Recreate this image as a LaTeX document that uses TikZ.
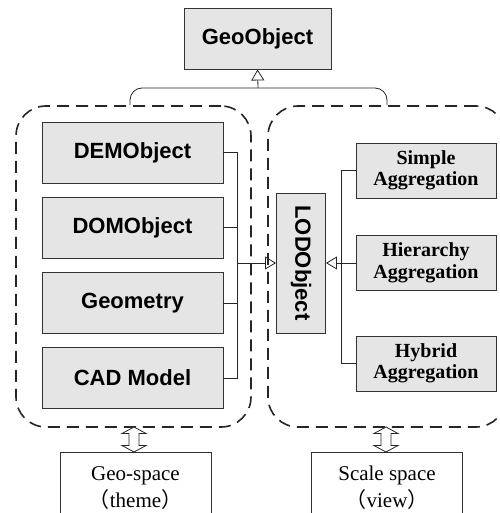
\documentclass[tikz,border=0pt]{standalone}
\usepackage{fontspec}
\setmainfont{Liberation Serif}
\setsansfont{Liberation Sans}
\newfontfamily\cjk{Noto Sans CJK SC}
\usetikzlibrary{arrows.meta}
\tikzset{
  clsfont/.style={font=\sffamily\bfseries\fontsize{22}{25}\selectfont},
  cls/.style={draw=black!80, line width=0.9pt, fill=gray!20, inner sep=0pt, clsfont},
  agg/.style={draw=black!80, line width=0.9pt, fill=gray!20, inner sep=0pt, align=center,
    minimum width=140pt, minimum height=55pt, font=\bfseries\fontsize{20}{21.5}\selectfont},
  group/.style={draw=black!85, line width=1.6pt, dash pattern=on 12pt off 7pt,
    rounded corners=30pt},
  space/.style={draw=black!80, line width=0.9pt, fill=white, inner sep=0pt, align=center,
    minimum width=151pt, minimum height=72pt, font=\fontsize{21}{27}\selectfont},
  tri/.style={-{Triangle[open, length=11pt, width=13pt]}},
  link/.style={draw=black!85, line width=0.8pt},
  swapline/.style={draw=black!85, line width=0.8pt, fill=white, line join=miter}
}
\begin{document}
\begin{tikzpicture}[x=1pt,y=-1pt]
  \useasboundingbox (0,0) rectangle (499,513);
  % containers
  \node [group, minimum width=235pt, minimum height=321pt] (lgroup) at (133.5,266.5) {};
  \node [group, minimum width=238pt, minimum height=321pt] (rgroup) at (387,266.5) {};
  \node [cls, minimum width=147pt, minimum height=61pt] (geo) at (257.5,38.5) {GeoObject};
  % left classes
  \node [cls, minimum width=181pt, minimum height=61pt] (dem) at (132.5,152.5) {DEMObject};
  \node [cls, minimum width=181pt, minimum height=61pt] (dom) at (132.5,227.5) {DOMObject};
  \node [cls, minimum width=181pt, minimum height=61pt] (geom) at (132.5,303) {Geometry};
  \node [cls, minimum width=181pt, minimum height=61pt] (cad) at (132.5,378) {CAD Model};
  \node [cls, minimum width=49pt, minimum height=140pt] (lod) at (301,263) {};
  \node [clsfont, rotate=-90] (lodtext) at (lod.center) {LODObject};
  % right classes
  \node [agg] (simple) at (426,170.5) {Simple\\Aggregation};
  \node [agg] (hier) at (426,263) {Hierarchy\\Aggregation};
  \node [agg] (hybrid) at (426,363.5) {Hybrid\\Aggregation};
  % spaces
  \node [space] (geospace) at (135.5,488) {Geo-space\\{\cjk （}theme{\cjk ）}};
  \node [space] (scalespace) at (387,488) {Scale space\\{\cjk （}view{\cjk ）}};
  \coordinate (lswap) at (134,439.5);
  \coordinate (rswap) at (386,439.5);
  % connectors
  \coordinate (top) at (258,88);
  \coordinate (lbus) at (237,263);
  \coordinate (rbus) at (341,263);
  \draw [link, rounded corners=12pt] (lgroup.north -| 130,0) |- (top) -| (rgroup.north);
  \draw [link, tri] (top) -- (geo.south);
  \draw [link] (dem.east) -| (lbus);
  \draw [link] (cad.east) -| (lbus);
  \draw [link] (dom.east) -- (dom.east -| lbus);
  \draw [link] (geom.east) -- (geom.east -| lbus);
  \draw [link, tri] (lbus) -- (lod.west);
  \draw [link] (simple.west) -| (rbus);
  \draw [link] (hybrid.west) -| (rbus);
  \draw [link, tri] (hier.west) -- (lod.east);
  % two-way arrows
  \foreach \s in {lswap,rswap}
    \draw [swapline] (\s) ++(0,-12.5) -- ++(12,6.5) -- ++(-7,0) -- ++(0,12) -- ++(7,0)
      -- ++(-12,6.5) -- ++(-12,-6.5) -- ++(7,0) -- ++(0,-12) -- ++(-7,0) -- cycle;
\end{tikzpicture}
\end{document}
